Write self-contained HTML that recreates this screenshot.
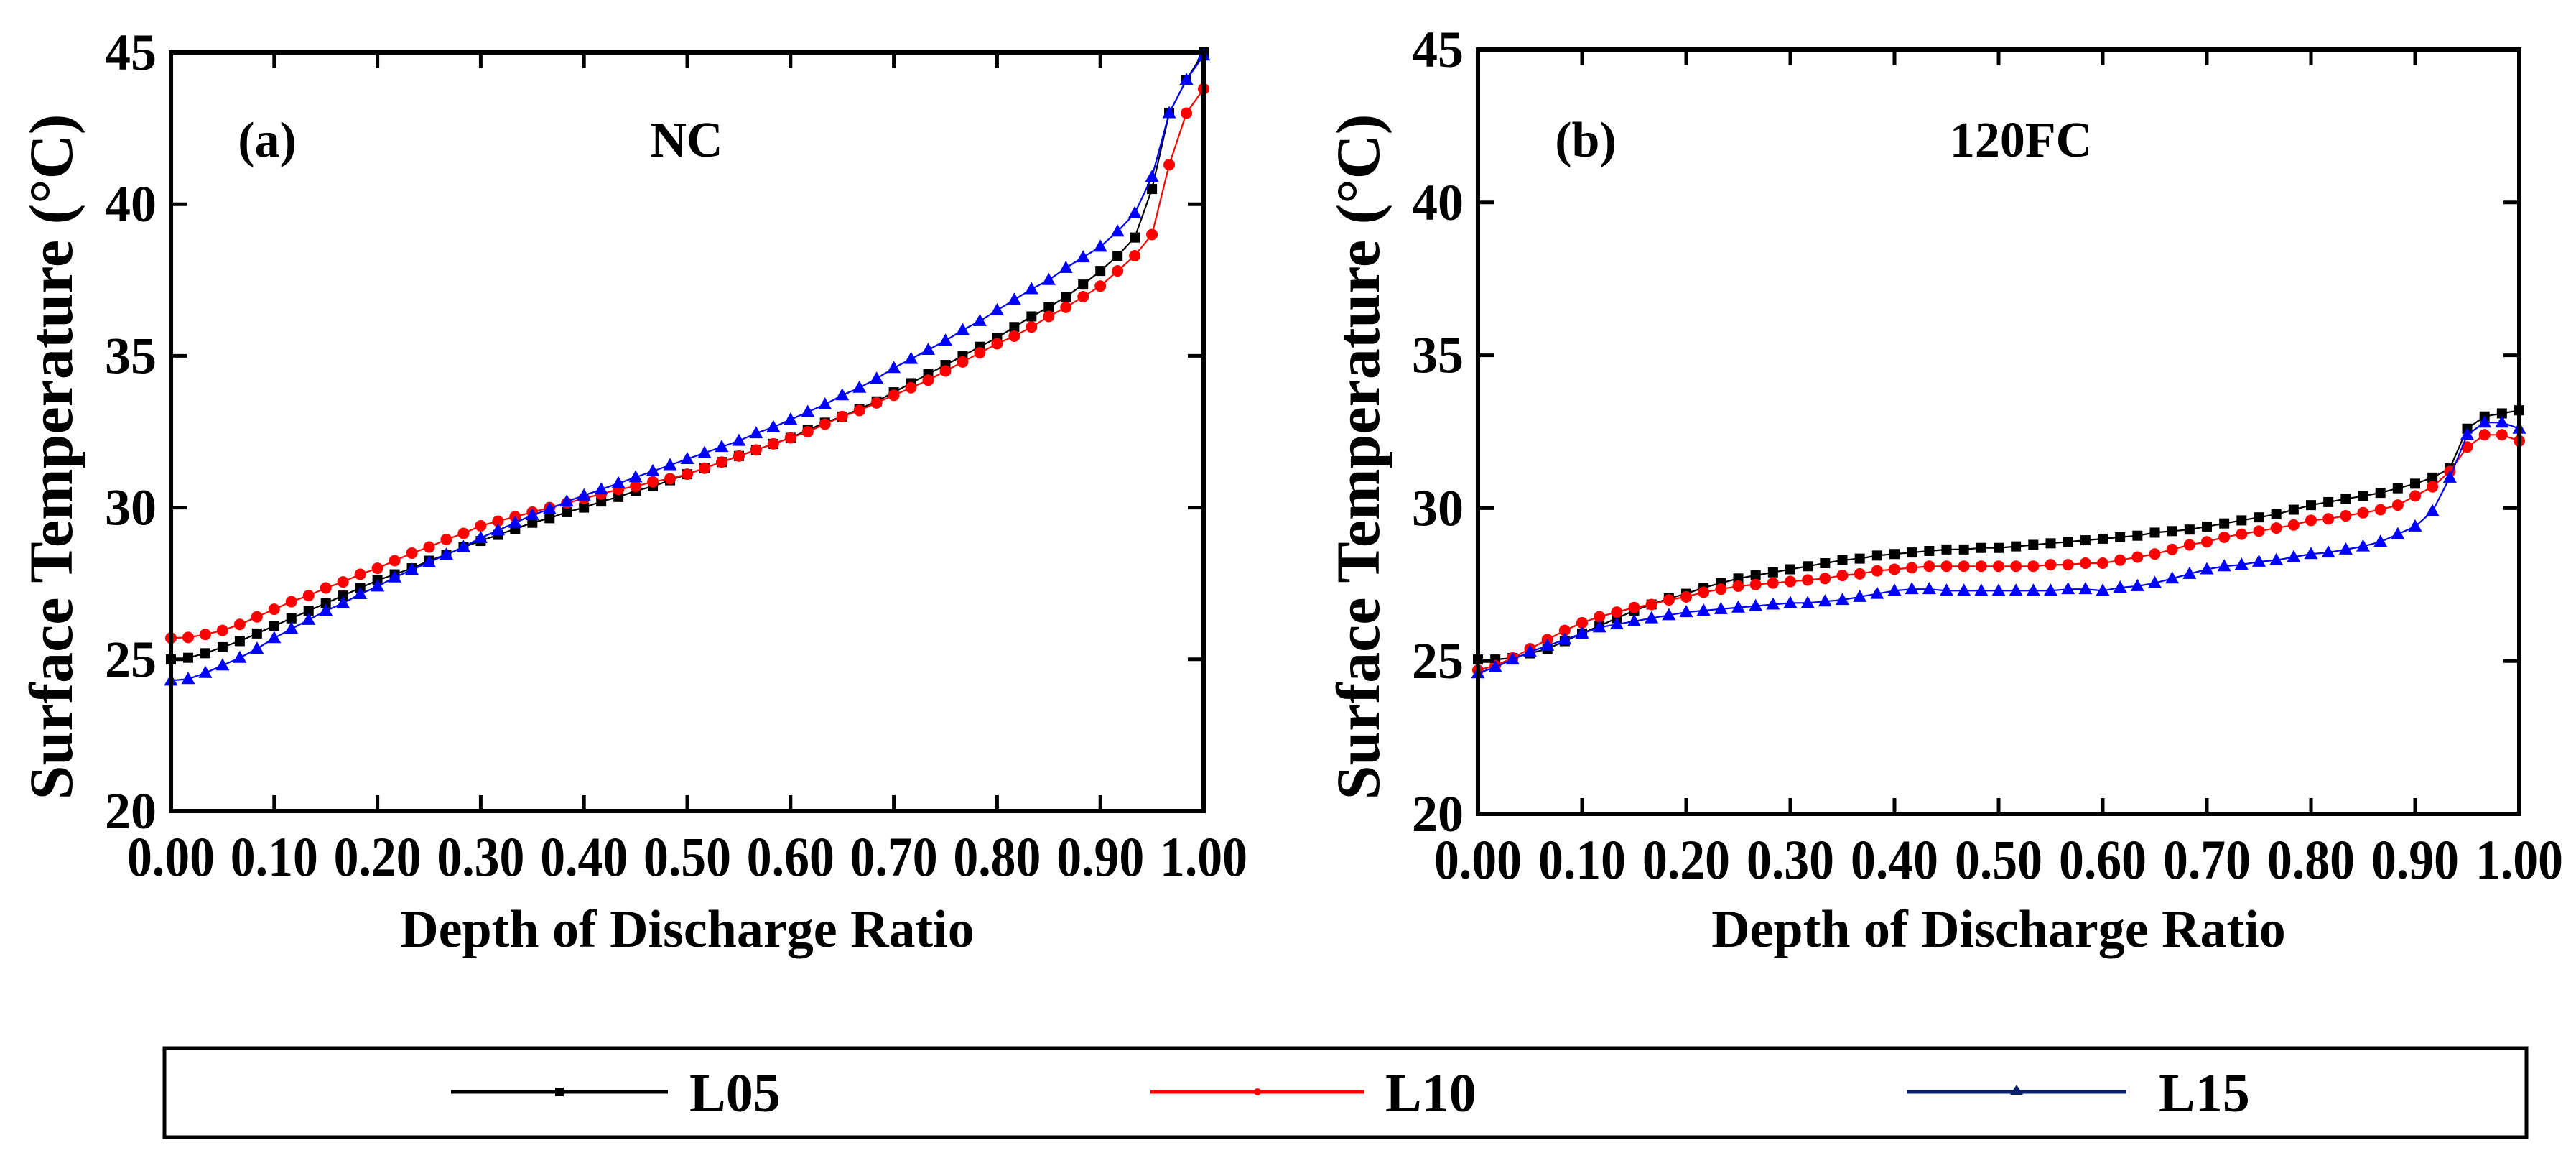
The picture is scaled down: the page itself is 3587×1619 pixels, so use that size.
<!DOCTYPE html>
<html><head><meta charset="utf-8"><style>
html,body{margin:0;padding:0;background:#fff;}
svg{display:block;font-family:"Liberation Serif",serif;font-weight:bold;}
</style></head><body>
<svg id="chart" width="3587" height="1619" viewBox="0 0 3587 1619" xmlns="http://www.w3.org/2000/svg"></svg>
<script>
const xTicks=[0,0.1,0.2,0.3,0.4,0.5,0.6,0.7,0.8,0.9,1.0];
const xTickLabels=["0.00","0.10","0.20","0.30","0.40","0.50","0.60","0.70","0.80","0.90","1.00"];
const yTicks=[20,25,30,35,40,45];
const yTickLabels=["20","25","30","35","40","45"];
const seriesNames=["L05","L10","L15"];
const aL05=[25.0,25.05,25.2,25.4,25.6,25.85,26.1,26.35,26.6,26.85,27.1,27.35,27.6,27.8,28.0,28.25,28.45,28.7,28.9,29.1,29.3,29.5,29.65,29.85,30.0,30.2,30.35,30.55,30.7,30.9,31.1,31.3,31.5,31.7,31.9,32.1,32.3,32.55,32.8,33.0,33.25,33.5,33.8,34.1,34.4,34.7,35.0,35.3,35.6,35.95,36.3,36.6,36.95,37.35,37.8,38.3,38.9,40.5,43.0,44.1,45.0];
const aL10=[25.7,25.72,25.82,25.95,26.15,26.4,26.65,26.9,27.1,27.35,27.55,27.8,28.0,28.25,28.5,28.7,28.95,29.15,29.4,29.55,29.7,29.85,30.0,30.15,30.3,30.45,30.6,30.7,30.85,30.95,31.1,31.3,31.5,31.7,31.9,32.1,32.3,32.5,32.75,33.0,33.2,33.45,33.7,33.95,34.2,34.5,34.8,35.1,35.4,35.65,35.95,36.3,36.6,36.95,37.3,37.8,38.3,39.0,41.3,43.0,43.8];
const aL15=[24.3,24.35,24.55,24.8,25.05,25.35,25.7,26.0,26.3,26.6,26.85,27.15,27.4,27.7,27.95,28.2,28.45,28.7,29.0,29.25,29.5,29.75,29.95,30.2,30.4,30.6,30.8,31.0,31.2,31.4,31.6,31.8,32.0,32.2,32.45,32.65,32.9,33.15,33.4,33.7,33.95,34.25,34.6,34.9,35.2,35.5,35.85,36.15,36.5,36.85,37.2,37.5,37.9,38.25,38.6,39.1,39.7,40.9,43.0,44.1,44.9];
const bL05=[25.05,25.05,25.1,25.25,25.4,25.65,25.9,26.15,26.4,26.65,26.85,27.05,27.2,27.4,27.55,27.7,27.8,27.9,28.0,28.1,28.2,28.3,28.35,28.45,28.5,28.55,28.6,28.65,28.65,28.7,28.7,28.75,28.8,28.85,28.9,28.95,29.0,29.05,29.1,29.2,29.25,29.3,29.4,29.5,29.6,29.7,29.8,29.95,30.1,30.2,30.3,30.4,30.5,30.65,30.8,31.0,31.3,32.6,33.0,33.1,33.2];
const bL10=[24.7,24.85,25.1,25.4,25.7,26.0,26.25,26.45,26.6,26.75,26.85,27.0,27.1,27.25,27.35,27.45,27.5,27.55,27.6,27.65,27.7,27.8,27.85,27.95,28.0,28.05,28.1,28.1,28.1,28.1,28.1,28.1,28.1,28.15,28.15,28.2,28.2,28.3,28.4,28.5,28.65,28.8,28.9,29.05,29.15,29.25,29.35,29.45,29.6,29.65,29.75,29.85,29.95,30.1,30.4,30.7,31.2,32.0,32.4,32.4,32.2];
const bL15=[24.6,24.8,25.05,25.3,25.5,25.7,25.9,26.1,26.2,26.3,26.4,26.5,26.6,26.65,26.7,26.75,26.8,26.85,26.9,26.9,26.95,27.0,27.1,27.2,27.3,27.35,27.35,27.3,27.3,27.3,27.3,27.3,27.3,27.3,27.35,27.35,27.3,27.4,27.45,27.55,27.7,27.85,28.0,28.1,28.15,28.25,28.3,28.4,28.5,28.55,28.65,28.75,28.9,29.15,29.4,29.9,31.0,32.4,32.8,32.8,32.6];

const NS="http://www.w3.org/2000/svg";
const svg=document.getElementById('chart');
function mk(tag,attrs,parent){const e=document.createElementNS(NS,tag);for(const k in attrs)e.setAttribute(k,attrs[k]);(parent||svg).appendChild(e);return e;}

const colors=["#000000","#ff0000","#0000ff"];
const panels=[
 {id:"a",L:238,R:1676,T:73,B:1129,label:"(a)",title:"NC",lx:372,tx:956,data:[aL05,aL10,aL15],ylx:70},
 {id:"b",L:2058,R:3508,T:69,B:1133,label:"(b)",title:"120FC",lx:2208,tx:2814,data:[bL05,bL10,bL15],ylx:1890}
];

panels.forEach(p=>{
 const g=mk('g',{});
 
 
 const xs=v=>p.L+(v-0)/(1-0)*(p.R-p.L);
 const ys=v=>p.B-(v-20)/(45-20)*(p.B-p.T);
 p.data.forEach((arr,si)=>{
  const sg=mk('g',{},g);
  
  
  const n=arr.length;
  const pts=arr.map((v,i)=>xs(i/(n-1)).toFixed(1)+','+ys(v).toFixed(1)).join(' ');
  const pl=mk('polyline',{points:pts,fill:'none',stroke:colors[si],'stroke-width':2.2},sg);
  
  
  arr.forEach((v,i)=>{
   const cx=xs(i/(n-1)),cy=ys(v);
   let m;
   if(si===0) m=mk('rect',{x:cx-7,y:cy-7,width:14,height:14,fill:colors[0]},sg);
   else if(si===1) m=mk('circle',{cx:cx,cy:cy,r:8,fill:colors[1]},sg);
   else m=mk('polygon',{points:`${cx},${cy-10} ${cx-9.5},${cy+7} ${cx+9.5},${cy+7}`,fill:colors[2]},sg);
   
   
  });
 });
 const fr=mk('rect',{x:p.L,y:p.T,width:p.R-p.L,height:p.B-p.T,fill:'none',stroke:'#000','stroke-width':6},g);
 
 
 xTicks.forEach((t,i)=>{
  const x=xs(t);
  if(i>0&&i<xTicks.length-1){
   mk('line',{x1:x,y1:p.B,x2:x,y2:p.B-22,stroke:'#000','stroke-width':5},g);
   mk('line',{x1:x,y1:p.T,x2:x,y2:p.T+22,stroke:'#000','stroke-width':5},g);
  }
  const tx=mk('text',{x:x,y:p.B+90,'text-anchor':'middle','font-size':78,textLength:122,lengthAdjust:'spacingAndGlyphs'},g);
  tx.textContent=xTickLabels[i];
  
  
 });
 yTicks.forEach((t,i)=>{
  const y=ys(t);
  if(i>0&&i<yTicks.length-1){
   mk('line',{x1:p.L,y1:y,x2:p.L+22,y2:y,stroke:'#000','stroke-width':5},g);
   mk('line',{x1:p.R,y1:y,x2:p.R-22,y2:y,stroke:'#000','stroke-width':5},g);
  }
  const ty=mk('text',{x:p.L-20,y:y+24,'text-anchor':'end','font-size':72},g);
  ty.textContent=yTickLabels[i];
  
  
 });
 const xt=mk('text',{x:(p.L+p.R)/2,y:1318,'text-anchor':'middle','font-size':74},g);
 xt.textContent="Depth of Discharge Ratio";
 
 
 const yt=mk('text',{x:0,y:0,'text-anchor':'middle','font-size':86,transform:`translate(${p.ylx+30},${(p.T+p.B)/2+35}) rotate(-90)`},g);
 yt.textContent="Surface Temperature (°C)";
 
 
 const lb=mk('text',{x:p.lx,y:218,'text-anchor':'middle','font-size':70},g);
 lb.textContent=p.label;
 
 
 const tt=mk('text',{x:p.tx,y:218,'text-anchor':'middle','font-size':70},g);
 tt.textContent=p.title;
 
 
});

const lg=mk('g',{});


mk('rect',{x:229,y:1459,width:3289,height:124,fill:'none',stroke:'#000','stroke-width':5},lg);
const legItems=[{x1:628,x2:930,tx:960,c:"#000"},{x1:1602,x2:1900,tx:1929,c:"#ff0000"},{x1:2655,x2:2961,tx:3006,c:"#0a1f6e"}];
legItems.forEach((it,i)=>{
 const e=mk('g',{},lg);
 
 
 const cy=1520,cx=(it.x1+it.x2)/2;
 mk('line',{x1:it.x1,y1:cy,x2:it.x2,y2:cy,stroke:it.c,'stroke-width':5},e);
 if(i===0) mk('rect',{x:cx-6,y:cy-6,width:12,height:12,fill:it.c},e);
 else if(i===1) mk('circle',{cx:cx,cy:cy,r:5,fill:it.c},e);
 else mk('polygon',{points:`${cx},${cy-10} ${cx-9},${cy+4} ${cx+9},${cy+4}`,fill:it.c},e);
 const t=mk('text',{x:it.tx,y:cy+27,'font-size':76},e);
 t.textContent=seriesNames[i];
});
</script>
</body></html>
